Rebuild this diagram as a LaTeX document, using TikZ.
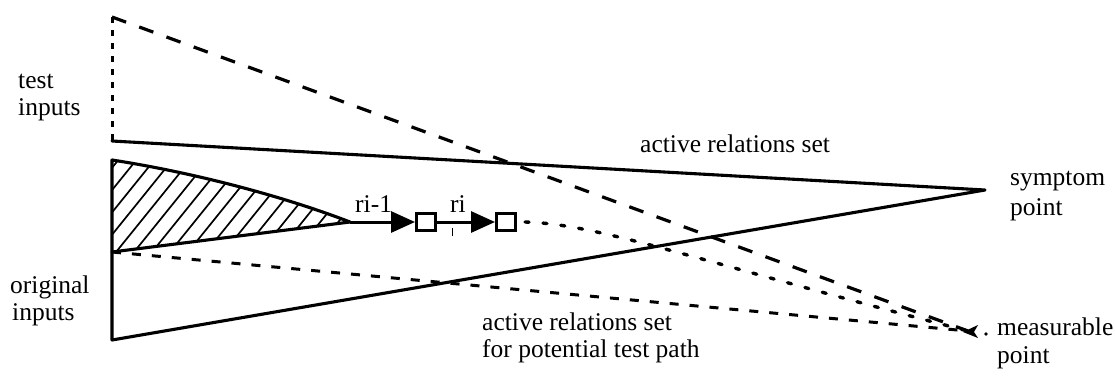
\documentclass[tikz,border=0pt]{standalone}
\usepackage{fontspec}
\setmainfont{Liberation Serif}
\usetikzlibrary{arrows.meta}
\begin{document}
\begin{tikzpicture}[x=1pt,y=-1pt,
  solidln/.style={line width=3.1pt, line cap=round, line join=round},
  longdash/.style={line width=3.2pt, dash pattern=on 15pt off 14pt},
  vdash/.style={line width=3pt, dash pattern=on 6pt off 7pt},
  lowdash/.style={line width=3pt, dash pattern=on 9pt off 11pt},
  dotln/.style={line width=3.4pt, line cap=round, dash pattern=on 4pt off 14pt},
  hatchln/.style={line width=1.7pt},
  lbl/.style={font=\fontsize{25.5}{28}\selectfont, inner sep=0pt, anchor=base west},
  sq/.style={draw, line width=3pt, minimum width=19pt, minimum height=17pt, inner sep=0pt},
  arr/.style={line width=3pt, -{Triangle[length=24pt,width=21pt]}}
]
\useasboundingbox (0,0) rectangle (1115,375);

% key points
\coordinate (TL) at (112,17);
\coordinate (TI) at (112,141);
\coordinate (HT) at (112,160);
\coordinate (HB) at (112,252);
\coordinate (BL) at (112,340);
\coordinate (SP) at (985,190);
\coordinate (MP) at (968,331);
\coordinate (TIP) at (350,222);

% hatched region
\begin{scope}
  \clip (HT) .. controls (190,172) and (280,195) .. (TIP) -- (HB) -- cycle;
  \foreach \x in {-90,-72,...,360} \draw[hatchln] (\x,262) -- ++(92,-114);
\end{scope}
\draw[solidln] (HT) .. controls (190,172) and (280,195) .. (TIP) -- (HB);

% solid cone of active relations
\draw[solidln] (TI) -- (SP) -- (BL) -- (HT);

% dashed lines
\draw[vdash] (TL) -- (TI);
\draw[longdash] (TL) -- (MP);
\draw[lowdash] (HB) -- (MP);

% path of relations
\node[sq] (s1) at (426,222) {};
\node[sq] (s2) at (506,222) {};
\draw[arr] (TIP) -- (s1.west);
\draw[arr] (s1.east) -- (s2.west);
\draw[line width=1pt] (452,228) -- (452,236);
\draw[dotln] (s2.east) ++(8,0) .. controls (600,224) and (700,262) .. (MP);

% measurable point marker
\fill (963,332) -- (978,325) -- (974,332) -- (978,338) -- cycle;
\fill (986,334) circle (1.8);

% labels
\node[lbl] (t1) at (18,88) {test};
\node[lbl] (t2) at (18,115) {inputs};
\node[lbl] (o1) at (10,293) {original};
\node[lbl] (o2) at (12,320) {inputs};
\node[lbl] (a1) at (640,152) {active relations set};
\node[lbl] (sy1) at (1010,185) {symptom};
\node[lbl] (sy2) at (1010,215) {point};
\node[lbl] (b1) at (482,330) {active relations set};
\node[lbl] (b2) at (482,357) {for potential test path};
\node[lbl] (m1) at (997,335) {measurable};
\node[lbl] (m2) at (997,363) {point};
\node[lbl] (r1) at (355,212) {ri-1};
\node[lbl] (r2) at (450,212) {ri};
\end{tikzpicture}
\end{document}
